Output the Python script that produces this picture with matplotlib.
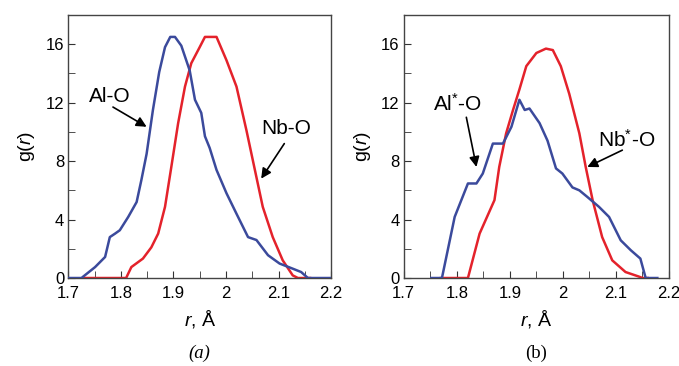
import matplotlib
matplotlib.use("Agg")
import matplotlib.pyplot as plt
from matplotlib.ticker import MultipleLocator

plt.rcParams['font.family'] = ['Liberation Sans', 'DejaVu Sans']
plt.rcParams['mathtext.fontset'] = 'custom'
plt.rcParams['mathtext.it'] = 'Liberation Sans:italic'
plt.rcParams['mathtext.rm'] = 'Liberation Sans'

# panel (a): Al-O
al_r = [1.700, 1.725, 1.751, 1.770, 1.779, 1.789, 1.798, 1.814, 1.830, 1.839, 1.849,
        1.861, 1.873, 1.884, 1.894, 1.903, 1.915, 1.931, 1.941, 1.953, 1.960, 1.969,
        1.982, 2.001, 2.020, 2.042, 2.058, 2.080, 2.102, 2.127, 2.143, 2.156, 2.200]
al_g = [0.0, 0.0, 0.75, 1.44, 2.8, 3.04, 3.27, 4.18, 5.2, 6.7, 8.5,
        11.5, 14.1, 15.8, 16.5, 16.5, 15.9, 14.2, 12.2, 11.3, 9.7, 8.9,
        7.4, 5.8, 4.4, 2.8, 2.6, 1.56, 0.99, 0.64, 0.41, 0.0, 0.0]

# panel (a): Nb-O
nb_r = [1.730, 1.810, 1.820, 1.842, 1.858, 1.871, 1.884, 1.896, 1.909, 1.922, 1.934,
        1.950, 1.960, 1.982, 2.001, 2.020, 2.039, 2.055, 2.070, 2.089, 2.108, 2.127,
        2.137, 2.160]
nb_g = [0.0, 0.0, 0.75, 1.33, 2.1, 3.04, 4.87, 7.6, 10.6, 13.1, 14.7,
        15.8, 16.5, 16.5, 14.9, 13.1, 10.1, 7.4, 4.87, 2.8, 1.21, 0.18,
        0.0, 0.0]

# panel (b): Al*-O
als_r = [1.752, 1.772, 1.796, 1.821, 1.837, 1.849, 1.868, 1.887, 1.903, 1.918, 1.928,
         1.937, 1.956, 1.971, 1.987, 1.999, 2.018, 2.031, 2.046, 2.068, 2.087, 2.109,
         2.128, 2.146, 2.156, 2.178]
als_g = [0.0, 0.0, 4.18, 6.47, 6.47, 7.15, 9.2, 9.2, 10.35, 12.2, 11.5,
         11.6, 10.6, 9.4, 7.5, 7.15, 6.2, 6.0, 5.55, 4.87, 4.18, 2.58,
         1.9, 1.33, 0.0, 0.0]

# panel (b): Nb*-O
nbs_r = [1.770, 1.821, 1.843, 1.871, 1.880, 1.893, 1.906, 1.918, 1.931, 1.950, 1.968,
         1.981, 1.996, 2.012, 2.031, 2.043, 2.056, 2.074, 2.093, 2.118, 2.143, 2.150,
         2.160]
nbs_g = [0.0, 0.0, 3.04, 5.33, 7.6, 9.9, 11.5, 12.9, 14.5, 15.4, 15.7,
         15.6, 14.5, 12.6, 9.9, 7.6, 5.33, 2.8, 1.21, 0.41, 0.1, 0.0,
         0.0]

blue = '#3b4a9c'
red = '#e4222b'

fig = plt.figure(figsize=(6.79, 3.66), dpi=100)
ax1 = fig.add_axes([0.1006, 0.2404, 0.387, 0.7186])
ax2 = fig.add_axes([0.5946, 0.2404, 0.3907, 0.7186])

panels = [
    (ax1, al_r, al_g, nb_r, nb_g, 'Al-O', 'Nb-O', '(a)', 'italic',
     (1.779, 12.4), (1.785, 11.7), (1.849, 10.35),
     (2.115, 10.2), (2.111, 9.2), (2.067, 6.8)),
    (ax2, als_r, als_g, nbs_r, nbs_g, 'Al$^{*}$-O', 'Nb$^{*}$-O', '(b)', 'normal',
     (1.802, 11.95), (1.818, 11.0), (1.837, 7.6),
     (2.121, 9.44), (2.112, 8.75), (2.046, 7.6)),
]

for (ax, br, bg, rr, rg, blab, rlab, cap, capstyle,
     btxt, bstart, bend, rtxt, rstart, rend) in panels:
    ax.plot(br, bg, color=blue, lw=1.8, zorder=3)
    ax.plot(rr, rg, color=red, lw=1.8, zorder=2)
    ax.set_xlim(1.7, 2.2)
    ax.set_ylim(0, 18)
    ax.xaxis.set_minor_locator(MultipleLocator(0.05))
    ax.yaxis.set_minor_locator(MultipleLocator(2))
    ax.set_xticks([1.7, 1.8, 1.9, 2.0, 2.1, 2.2])
    ax.set_xticklabels(['1.7', '1.8', '1.9', '2', '2.1', '2.2'])
    ax.set_yticks([0, 4, 8, 12, 16])
    ax.tick_params(which='both', direction='in', top=False, right=False,
                   labelsize=12, color='#333333', length=5)
    ax.tick_params(axis='x', pad=6)
    ax.tick_params(axis='y', pad=3)
    for s in ax.spines.values():
        s.set_color('#444444')
        s.set_linewidth(1.0)
    ax.set_ylabel('g($r$)', fontsize=14, labelpad=6)
    ax.set_xlabel('$r$, Å', fontsize=14, labelpad=5)
    ax.text(0.5, -0.285, cap, transform=ax.transAxes, ha='center', va='center',
            fontsize=13.5, family='Liberation Serif', style=capstyle)
    ax.text(btxt[0], btxt[1], blab, fontsize=15, ha='center', va='center')
    ax.annotate('', xy=bend, xytext=bstart,
                arrowprops=dict(arrowstyle='-|>', color='black', lw=1.2,
                                mutation_scale=15, shrinkA=0, shrinkB=0))
    ax.text(rtxt[0], rtxt[1], rlab, fontsize=15, ha='center', va='center')
    ax.annotate('', xy=rend, xytext=rstart,
                arrowprops=dict(arrowstyle='-|>', color='black', lw=1.2,
                                mutation_scale=15, shrinkA=0, shrinkB=0))

fig.savefig('out.png', dpi=100)
